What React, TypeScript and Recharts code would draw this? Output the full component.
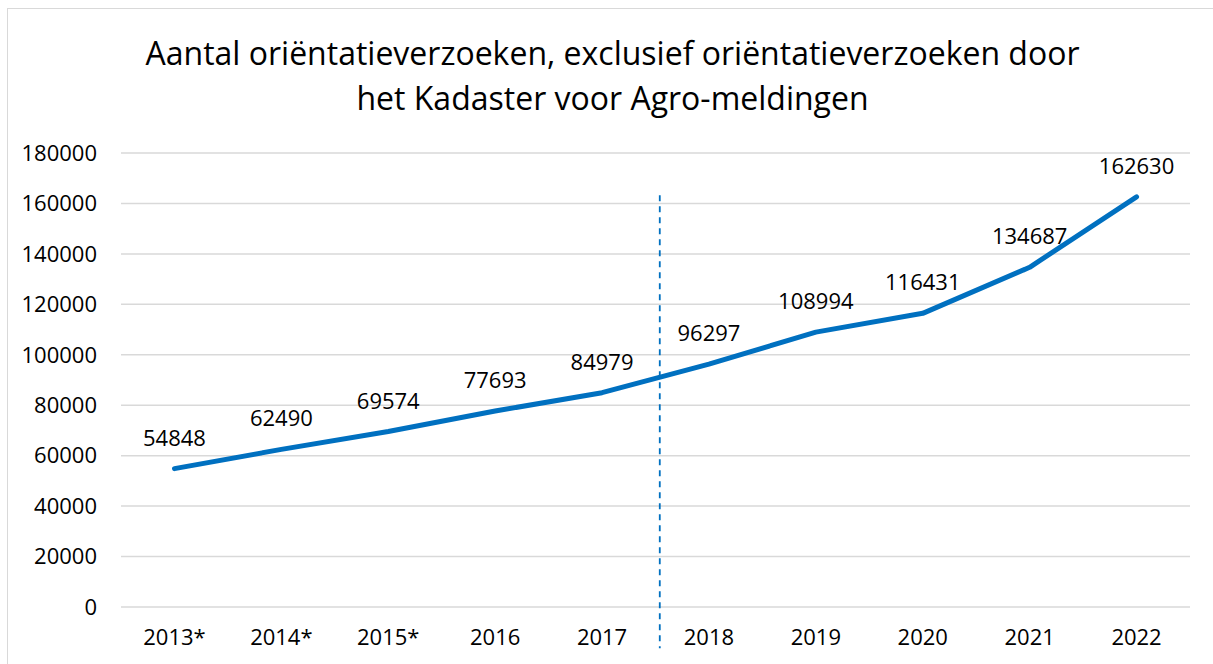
import React from 'react';
import { LineChart, Line, XAxis, YAxis, CartesianGrid, ReferenceLine } from 'recharts';

// Jaren (met * = andere telmethode)
const years = ['2013*', '2014*', '2015*', '2016', '2017', '2018', '2019', '2020', '2021', '2022'];
const requests = [54848, 62490, 69574, 77693, 84979, 96297, 108994, 116431, 134687, 162630];
const yTicks = [0, 20000, 40000, 60000, 80000, 100000, 120000, 140000, 160000, 180000];

// scheiding tussen 2017 en 2018
const SPLIT_X = 4.54;

const BLUE = '#0070C0';

const chartData = requests.map((value, i) => ({ idx: i, value }));

const renderValueLabel = ({ x, y, value }: any) => (
  <text x={x} y={y - 32} textAnchor="middle" dominantBaseline="central" fontSize={22} fill="#000">
    {value}
  </text>
);

const App: React.FC = () => {
  return (
    <div
      style={{
        position: 'fixed',
        left: 7,
        top: 8,
        width: 1209,
        height: 660,
        borderTop: '1px solid #d9d9d9',
        borderLeft: '1px solid #d9d9d9',
        background: '#fff',
        fontFamily: '"Open Sans", sans-serif',
        overflow: 'hidden',
      }}
    >
      <div
        style={{
          position: 'absolute',
          left: 0,
          top: 21,
          width: 1209,
          textAlign: 'center',
          fontSize: 32,
          lineHeight: '45px',
          color: '#000',
        }}
      >
        Aantal oriëntatieverzoeken, exclusief oriëntatieverzoeken door
        <br />
        het Kadaster voor Agro-meldingen
      </div>
      <LineChart
        width={1205}
        height={655}
        data={chartData}
        margin={{ top: 144, right: 23, bottom: 17, left: 0 }}
      >
        <CartesianGrid vertical={false} stroke="#d9d9d9" strokeWidth={1.5} />
        <XAxis
          dataKey="idx"
          type="number"
          domain={[-0.5, 9.5]}
          ticks={years.map((_, i) => i)}
          interval={0}
          tickFormatter={(i: number) => years[i]}
          axisLine={false}
          tickLine={false}
          tickSize={0}
          tickMargin={22}
          height={40}
          tick={{ fontSize: 22, fill: '#000' }}
        />
        <YAxis
          domain={[0, 180000]}
          ticks={yTicks}
          interval={0}
          axisLine={false}
          tickLine={false}
          tickSize={0}
          tickMargin={24}
          width={113}
          tick={{ fontSize: 22, fill: '#000' }}
        />
        <ReferenceLine
          segment={[
            { x: SPLIT_X, y: 163200 },
            { x: SPLIT_X, y: -16400 },
          ]}
          ifOverflow="visible"
          stroke={BLUE}
          strokeWidth={1.8}
          strokeDasharray="6 5"
        />
        <Line
          type="linear"
          dataKey="value"
          stroke={BLUE}
          strokeWidth={5}
          strokeLinecap="round"
          strokeLinejoin="round"
          dot={false}
          label={renderValueLabel}
          isAnimationActive={false}
        />
      </LineChart>
    </div>
  );
};

export default App;
